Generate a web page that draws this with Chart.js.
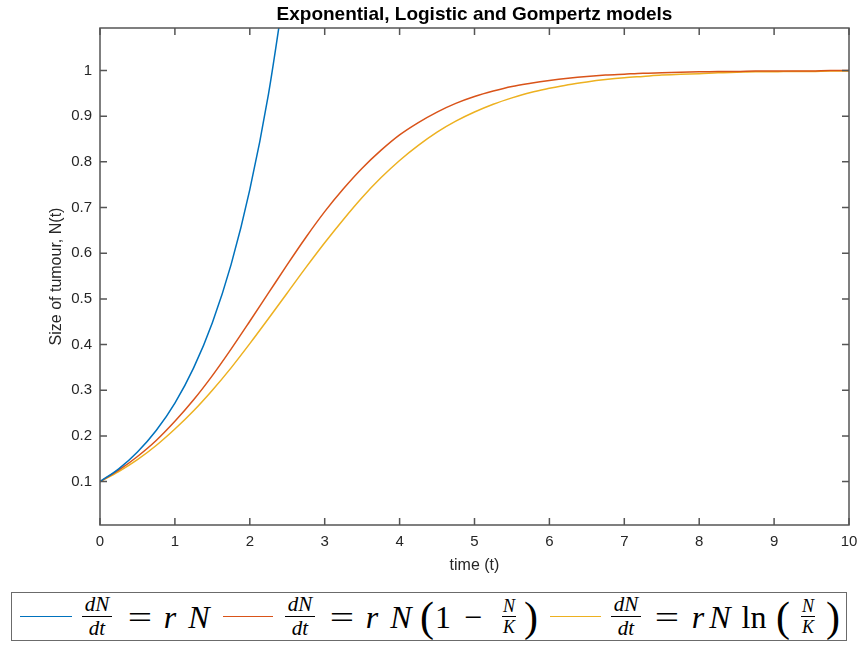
<!DOCTYPE html>
<html>
<head>
<meta charset="utf-8">
<script src="https://cdn.jsdelivr.net/npm/chart.js@4/dist/chart.umd.min.js"></script>
<style>
  html, body { margin: 0; padding: 0; background: #fff; }
  #wrap { position: relative; width: 858px; height: 645px; }
  #legend {
    position: absolute; left: 11px; top: 592px; width: 834px; height: 47px;
    border: 1.5px solid #6b6b6b; background: #fff;
    font-family: 'Liberation Serif', 'Times New Roman', serif; color: #000;
  }
  /* every token is centred on its x position inside the legend box */
  .tk { position: absolute; top: 0; height: 47px; display: flex; align-items: center; justify-content: center;
        width: 0; white-space: nowrap; font-size: 32px; line-height: 1; }
  .tk > * { flex: none; }
  .mi { font-style: italic; }
  .eqs { display: inline-block; transform: scaleX(1.35); }
  .sw { position: absolute; top: 23px; height: 0; border-top: 1.5px solid; }
  .fr { display: inline-flex; flex-direction: column; align-items: center; font-style: italic; font-size: 21px; line-height: 1; }
  .fr .n { border-bottom: 1.4px solid #000; padding: 0 3px 1px; }
  .fr .d { padding-top: 1px; }
  .fr.sm { font-size: 18px; }
  .fr.sm .n { padding: 0 1px 1px; }
  .bp { font-size: 42px; }
</style>
</head>
<body>
<div id="wrap">
  <canvas id="tumourChart" width="858" height="645"></canvas>
  <div id="legend">
    <!-- exponential -->
    <span class="sw" style="left:8px;width:52px;border-color:#0072BD"></span>
    <span class="tk" style="left:85px"><span class="fr"><span class="n">dN</span><span class="d">dt</span></span></span>
    <span class="tk" style="left:128px"><span class="eqs">=</span></span>
    <span class="tk mi" style="left:158px"><span>r</span></span>
    <span class="tk mi" style="left:187px"><span>N</span></span>
    <!-- logistic -->
    <span class="sw" style="left:211px;width:50px;border-color:#D95319"></span>
    <span class="tk" style="left:288px"><span class="fr"><span class="n">dN</span><span class="d">dt</span></span></span>
    <span class="tk" style="left:330px"><span class="eqs">=</span></span>
    <span class="tk mi" style="left:360px"><span>r</span></span>
    <span class="tk mi" style="left:389px"><span>N</span></span>
    <span class="tk" style="left:415px"><span class="bp">(</span></span>
    <span class="tk" style="left:431px"><span>1</span></span>
    <span class="tk" style="left:461px"><span>−</span></span>
    <span class="tk" style="left:497px"><span class="fr sm"><span class="n">N</span><span class="d">K</span></span></span>
    <span class="tk" style="left:519px"><span class="bp">)</span></span>
    <!-- gompertz -->
    <span class="sw" style="left:538px;width:51px;border-color:#EDB120"></span>
    <span class="tk" style="left:614px"><span class="fr"><span class="n">dN</span><span class="d">dt</span></span></span>
    <span class="tk" style="left:655px"><span class="eqs">=</span></span>
    <span class="tk mi" style="left:686px"><span>r</span></span>
    <span class="tk mi" style="left:708px"><span>N</span></span>
    <span class="tk" style="left:742px"><span>ln</span></span>
    <span class="tk" style="left:771px"><span class="bp">(</span></span>
    <span class="tk" style="left:796px"><span class="fr sm"><span class="n">N</span><span class="d">K</span></span></span>
    <span class="tk" style="left:821px"><span class="bp">)</span></span>
  </div>
</div>
<script>
  // time samples and the three curves
  const tValues = [0, 0.25, 0.5, 0.75, 1, 1.25, 1.5, 1.75, 2, 2.25, 2.5, 2.75, 3, 3.25, 3.5, 3.75, 4, 4.25, 4.5, 4.75, 5,
    5.25, 5.5, 5.75, 6, 6.25, 6.5, 6.75, 7, 7.25, 7.5, 7.75, 8, 8.25, 8.5, 8.75, 9, 9.25, 9.5, 9.75, 10];
  const expValues = [0.100, 0.128, 0.165, 0.212, 0.272, 0.349, 0.448, 0.575, 0.739, 0.949, 1.218];
  const logValues = [0.100, 0.125, 0.155, 0.190, 0.232, 0.279, 0.332, 0.390, 0.451, 0.513, 0.575, 0.635, 0.691, 0.741,
    0.786, 0.825, 0.859, 0.886, 0.909, 0.928, 0.943, 0.955, 0.965, 0.972, 0.978, 0.983, 0.987, 0.990, 0.992, 0.994,
    0.995, 0.996, 0.997, 0.998, 0.998, 0.999, 0.999, 0.999, 0.999, 1.000, 1.000];
  const gompValues = [0.100, 0.122, 0.148, 0.179, 0.215, 0.255, 0.300, 0.349, 0.402, 0.457, 0.513, 0.569, 0.623, 0.674,
    0.722, 0.765, 0.803, 0.836, 0.865, 0.889, 0.909, 0.926, 0.940, 0.952, 0.961, 0.969, 0.975, 0.980, 0.984, 0.987,
    0.990, 0.992, 0.993, 0.995, 0.996, 0.997, 0.997, 0.998, 0.998, 0.999, 0.999];
  const yTicks = [0.1, 0.2, 0.3, 0.4, 0.5, 0.6, 0.7, 0.8, 0.9, 1];

  const sans = "'Liberation Sans', Arial, Helvetica, sans-serif";
  const axisColor = "#555";

  const toPoints = (vals) => vals.map((v, i) => ({ x: tValues[i], y: v }));

  // MATLAB-like box with inward ticks on all four sides, plus the title
  const matlabAxes = {
    id: "matlabAxes",
    afterDatasetsDraw(chart) {
      const { ctx, chartArea: a, scales } = chart;
      const tl = 7;
      ctx.save();
      ctx.strokeStyle = axisColor;
      ctx.lineWidth = 1.5;
      ctx.strokeRect(a.left, a.top, a.right - a.left, a.bottom - a.top);
      ctx.beginPath();
      scales.x.ticks.forEach(t => {
        const px = scales.x.getPixelForValue(t.value);
        ctx.moveTo(px, a.bottom); ctx.lineTo(px, a.bottom - tl);
        ctx.moveTo(px, a.top); ctx.lineTo(px, a.top + tl);
      });
      scales.y.ticks.forEach(t => {
        const py = scales.y.getPixelForValue(t.value);
        ctx.moveTo(a.left, py); ctx.lineTo(a.left + tl, py);
        ctx.moveTo(a.right, py); ctx.lineTo(a.right - tl, py);
      });
      ctx.stroke();
      ctx.fillStyle = "#000";
      ctx.font = "bold 19px " + sans;
      ctx.textAlign = "center";
      ctx.textBaseline = "alphabetic";
      ctx.fillText("Exponential, Logistic and Gompertz models", (a.left + a.right) / 2, 19.5);
      ctx.restore();
    }
  };

  const ctx = document.getElementById("tumourChart").getContext("2d");
  const chart = new Chart(ctx, {
    type: "line",
    data: {
      datasets: [{
        label: "Exponential",
        data: toPoints(expValues),
        borderColor: "#0072BD",
        borderWidth: 1.5,
        pointRadius: 0,
        cubicInterpolationMode: "monotone"
      }, {
        label: "Logistic",
        data: toPoints(logValues),
        borderColor: "#D95319",
        borderWidth: 1.5,
        pointRadius: 0,
        cubicInterpolationMode: "monotone"
      }, {
        label: "Gompertz",
        data: toPoints(gompValues),
        borderColor: "#EDB120",
        borderWidth: 1.5,
        pointRadius: 0,
        cubicInterpolationMode: "monotone"
      }]
    },
    options: {
      responsive: false,
      animation: false,
      layout: { padding: { top: 28, right: 9, left: 0, bottom: 70 } },
      scales: {
        x: {
          type: "linear",
          min: 0,
          max: 10,
          grid: { display: false, drawTicks: false },
          border: { display: false },
          ticks: { stepSize: 1, padding: 8, color: "#262626", font: { family: sans, size: 15 } },
          title: { display: true, text: "time (t)", color: "#262626", font: { family: sans, size: 16 }, padding: { top: 0, bottom: 0 } },
          afterFit(scale) {
            scale.height = 50;
            scale.paddingLeft = 0;
            scale.paddingRight = 0;
          }
        },
        y: {
          type: "linear",
          min: 0.005,
          max: 1.093,
          grid: { display: false, drawTicks: false },
          border: { display: false },
          afterBuildTicks(scale) { scale.ticks = yTicks.map(v => ({ value: v })); },
          ticks: {
            padding: 8, color: "#262626", font: { family: sans, size: 15 },
            callback: (v) => String(Math.round(v * 10) / 10)
          },
          title: { display: true, text: "Size of tumour, N(t)", color: "#262626", font: { family: sans, size: 16 }, padding: { top: 47, bottom: 0 } },
          afterFit(scale) { scale.width = 100; }
        }
      },
      plugins: {
        legend: { display: false },
        title: { display: false },
        tooltip: { enabled: false }
      }
    },
    plugins: [matlabAxes]
  });
</script>
</body>
</html>
